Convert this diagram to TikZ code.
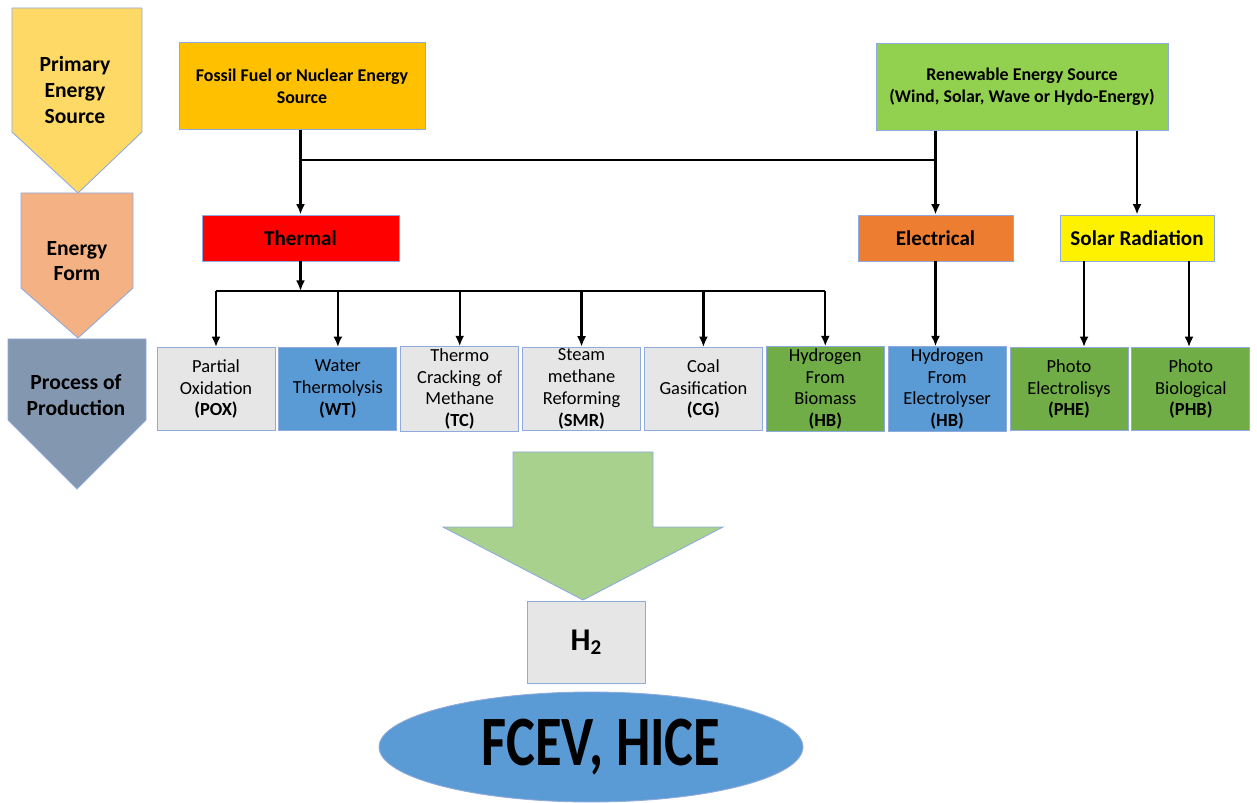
\documentclass[tikz,border=0pt]{standalone}
\usepackage{fontspec}
\setmainfont{Carlito}
\usepackage{xcolor}
\usetikzlibrary{arrows.meta, positioning, shapes.geometric, calc}

\definecolor{edgeblue}{HTML}{8FAADC}
\definecolor{goldlt}{HTML}{FFD966}
\definecolor{peach}{HTML}{F4B183}
\definecolor{slate}{HTML}{8497B0}
\definecolor{amber}{HTML}{FFC000}
\definecolor{lime}{HTML}{92D050}
\definecolor{orng}{HTML}{ED7D31}
\definecolor{grey}{HTML}{E7E6E6}
\definecolor{sky}{HTML}{5B9BD5}
\definecolor{leaf}{HTML}{70AD47}
\definecolor{mint}{HTML}{A9D18E}

\begin{document}
\begin{tikzpicture}[
  x=0.02cm, y=-0.02cm,
  align=center,
  link/.style={-{Latex[length=2.1mm, width=1.8mm]}, line width=1.3pt},
  wire/.style={line width=1.3pt},
  outline/.style={draw=edgeblue, line width=0.5pt},
  stage/.style={font=\fontsize{12.3}{14.7}\selectfont\bfseries},
  src/.style={rectangle, draw=edgeblue, line width=0.5pt,
              minimum height=1.73cm, inner sep=2pt,
              font=\fontsize{10.2}{12.4}\selectfont\bfseries},
  form/.style={rectangle, draw=edgeblue, line width=0.5pt,
               minimum height=0.92cm, inner sep=2pt,
               font=\fontsize{12}{14}\selectfont\bfseries},
  proc/.style={rectangle, draw=edgeblue, line width=0.5pt,
               minimum width=2.36cm, minimum height=1.66cm,
               text width=2.25cm, inner sep=1pt,
               font=\fontsize{10.5}{12.4}\selectfont},
]
\useasboundingbox (0,0) rectangle (1257,803);

% Stage chevrons
\filldraw[outline, fill=goldlt] (12,8) -- (142,8) -- (142,132) -- (78,193) -- (12,132) -- cycle;
\filldraw[outline, fill=peach]  (21,193) -- (133,193) -- (133,288) -- (78,338) -- (21,288) -- cycle;
\filldraw[outline, fill=slate]  (8,339) -- (146,339) -- (146,420) -- (77,489) -- (8,420) -- cycle;
\node[stage] (primary) at (75,90)  {Primary\\Energy\\Source};
\node[stage] (eform)   at (77,261) {Energy\\Form};
\node[stage] (process) at (76,395) {Process of\\Production};

% Primary sources
\node[src, fill=amber, minimum width=4.92cm] (fossil) at (302,86)
  {Fossil Fuel or Nuclear Energy\\Source};
\node[src, fill=lime, minimum width=5.84cm] (renew) at (1022,87)
  {Renewable Energy Source\\(Wind, Solar, Wave or Hydo-Energy)};

% Energy forms
\node[form, fill=red,    minimum width=3.94cm] (thermal) at (300.5,238) {Thermal};
\node[form, fill=orng,   minimum width=3.10cm] (elec)    at (935.5,238) {Electrical};
\node[form, fill=yellow, minimum width=3.08cm] (solar)   at (1137,238)  {Solar Radiation};

% Production processes
\node[proc, fill=grey] (pox) at (216,389) {Partial\\Oxidation\\\textbf{(POX)}};
\node[proc, fill=sky,  right=0.6mm of pox] (wt)  {Water\\Thermolysis\\\textbf{(WT)}};
\node[proc, fill=grey, right=0.6mm of wt]  (tc)  {Thermo\\Cracking of\\Methane\\\textbf{(TC)}};
\node[proc, fill=grey, right=0.6mm of tc]  (smr) {Steam\\methane\\Reforming\\\textbf{(SMR)}};
\node[proc, fill=grey, right=0.6mm of smr] (cg)  {Coal\\Gasification\\\textbf{(CG)}};
\node[proc, fill=leaf, right=0.6mm of cg]  (hbb) {Hydrogen\\From\\Biomass\\\textbf{(HB)}};
\node[proc, fill=sky,  right=0.6mm of hbb] (hbe) {Hydrogen\\From\\Electrolyser\\\textbf{(HB)}};
\node[proc, fill=leaf, right=0.6mm of hbe] (phe) {Photo\\Electrolisys\\\textbf{(PHE)}};
\node[proc, fill=leaf, right=0.6mm of phe] (phb) {Photo\\Biological\\\textbf{(PHB)}};

% Output
\filldraw[outline, fill=mint] (513,452) -- (653,452) -- (653,527) -- (723,527)
  -- (583,600) -- (443,527) -- (513,527) -- cycle;
\node[rectangle, draw=edgeblue, line width=0.5pt, fill=grey,
      minimum width=2.36cm, minimum height=1.64cm,
      font=\fontsize{18}{20}\selectfont\bfseries] (htwo) at (586,642)
  {H\raisebox{-0.12em}{\fontsize{12}{14}\selectfont 2}};
\node[ellipse, draw=edgeblue, line width=0.5pt, fill=sky,
      minimum width=8.48cm, minimum height=2.2cm,
      font=\fontsize{31}{36}\selectfont\bfseries] (fcev) at (591,747)
  {\hspace*{0.4cm}\scalebox{1}[1.3]{FCEV, HICE}};

% Edges
\coordinate (junction) at (elec.north |- 0,160);
\draw[wire] (fossil.south -| thermal.north) |- (junction);
\draw[link] (fossil.south -| thermal.north) -- (thermal.north);
\draw[link] (renew.south -| elec.north) -- (elec.north);
\draw[link] (renew.south -| solar.north) -- (solar.north);

\coordinate (tbus) at (thermal.south |- 0,291);
\draw[link] (thermal.south) -- (tbus);
\draw[wire] (pox.north |- tbus) -- (hbb.north |- tbus);
\foreach \p in {pox, wt, tc, smr, cg, hbb}
  \draw[link] (\p.north |- tbus) -- (\p.north);

\draw[link] (elec.south) -- (hbe.north -| elec.south);
\draw[link] ([xshift=-1.06cm]solar.south) -- ([xshift=-1.06cm]solar.south |- phe.north);
\draw[link] ([xshift=1.04cm]solar.south) -- ([xshift=1.04cm]solar.south |- phb.north);

\end{tikzpicture}
\end{document}
